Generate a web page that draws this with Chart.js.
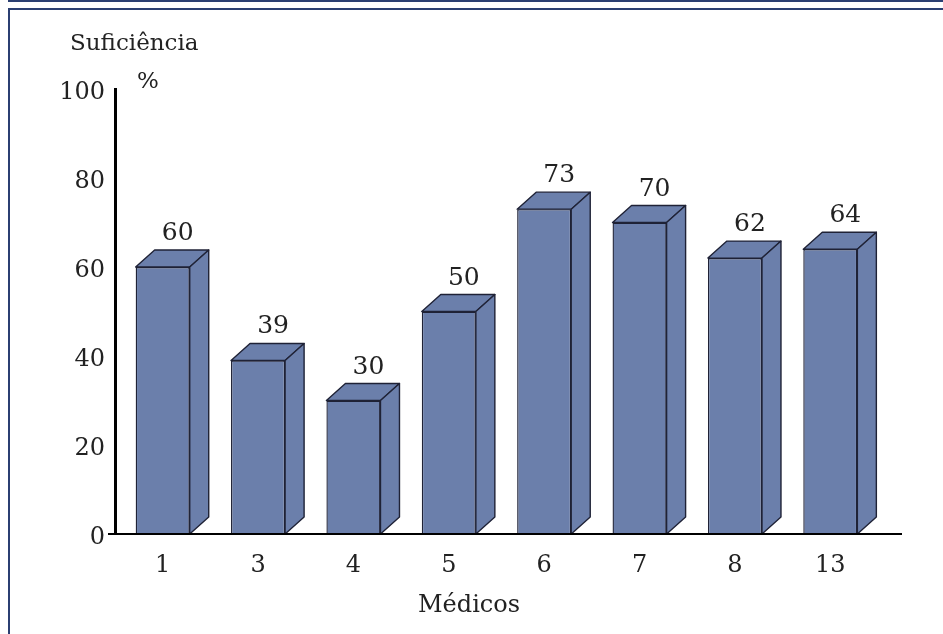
<!DOCTYPE html>
<html>
<head>
<meta charset="utf-8">
<script src="https://cdn.jsdelivr.net/npm/chart.js@4/dist/chart.umd.min.js"></script>
<style>
  html, body { margin: 0; padding: 0; background: #fff; }
  #wrap { position: relative; width: 943px; height: 634px; }
  #frame { position: absolute; left: 8px; top: 8px; right: -4px; bottom: -4px; border: 2px solid #2b3f72; }
  #topline { position: absolute; left: 8px; right: 0; top: 0; height: 2px; background: #2b3f72; }
  canvas { position: absolute; left: 0; top: 0; }
</style>
</head>
<body>
<div id="wrap">
  <div id="topline"></div>
  <div id="frame"></div>
  <canvas id="c" width="943" height="634"></canvas>
</div>
<script>
// data
const categories = ['1', '3', '4', '5', '6', '7', '8', '13'];
const suficiencia = [60, 39, 30, 50, 73, 70, 62, 64];
const yTicks = [0, 20, 40, 60, 80, 100];

const FONT = '"DejaVu Serif", "Liberation Serif", serif';
const BAR = '#6b7fab', EDGE = '#1f2236', INK = '#222';
const DX = 19, DY = 17; // depth of the 3d box

// draws top + side faces of each bar, value labels, axes and titles
const box3d = {
  id: 'box3d',
  afterDatasetsDraw(chart) {
    const ctx = chart.ctx, meta = chart.getDatasetMeta(0), area = chart.chartArea;
    ctx.save();
    ctx.lineWidth = 1.4;
    ctx.lineJoin = 'round';
    ctx.strokeStyle = EDGE;
    ctx.fillStyle = BAR;
    meta.data.forEach((el, i) => {
      const l = el.x - el.width / 2, r = el.x + el.width / 2, t = el.y, b = el.base;
      // top face
      ctx.beginPath();
      ctx.moveTo(l, t); ctx.lineTo(l + DX, t - DY); ctx.lineTo(r + DX, t - DY); ctx.lineTo(r, t); ctx.closePath();
      ctx.fill(); ctx.stroke();
      // side face
      ctx.beginPath();
      ctx.moveTo(r, t); ctx.lineTo(r + DX, t - DY); ctx.lineTo(r + DX, b - DY); ctx.lineTo(r, b); ctx.closePath();
      ctx.fill(); ctx.stroke();
      // value
      ctx.fillStyle = INK;
      ctx.font = '25px ' + FONT;
      ctx.textAlign = 'center';
      ctx.textBaseline = 'alphabetic';
      ctx.fillText(String(suficiencia[i]), el.x + 15, t - DY - 10);
      ctx.fillStyle = BAR;
    });
    // axes
    ctx.strokeStyle = '#000';
    ctx.lineWidth = 3;
    ctx.beginPath(); ctx.moveTo(115.5, area.top - 1); ctx.lineTo(115.5, area.bottom + 1); ctx.stroke();
    ctx.lineWidth = 2;
    ctx.beginPath(); ctx.moveTo(108, area.bottom); ctx.lineTo(902, area.bottom); ctx.stroke();
    // titles
    ctx.fillStyle = INK;
    ctx.textBaseline = 'middle';
    ctx.font = '23px ' + FONT;
    ctx.textAlign = 'left';
    ctx.fillText('Suficiência', 70, 44);
    ctx.fillText('%', 137, 82);
    ctx.textAlign = 'center';
    ctx.font = '24px ' + FONT;
    ctx.fillText('Médicos', 469, 606);
    ctx.restore();
  }
};

new Chart(document.getElementById('c'), {
  type: 'bar',
  data: {
    labels: categories,
    datasets: [{
      data: suficiencia,
      backgroundColor: BAR,
      borderColor: EDGE,
      borderWidth: 1.4,
      barPercentage: 1,
      categoryPercentage: 0.567
    }]
  },
  options: {
    responsive: false,
    animation: false,
    events: [],
    layout: { padding: { top: 89, right: 65, left: 0, bottom: 0 } },
    plugins: { legend: { display: false }, tooltip: { enabled: false } },
    scales: {
      x: {
        grid: { display: false, drawTicks: false },
        border: { display: false },
        ticks: { color: INK, font: { family: FONT, size: 24 }, padding: 17 },
        afterFit: s => { s.height = 100; }
      },
      y: {
        min: 0, max: 100,
        afterBuildTicks: s => { s.ticks = yTicks.map(v => ({ value: v })); },
        grid: { display: false, drawTicks: false },
        border: { display: false },
        ticks: { color: INK, font: { family: FONT, size: 24 }, padding: 10, labelOffset: 4 },
        afterFit: s => { s.width = 115; }
      }
    }
  },
  plugins: [box3d]
});
</script>
</body>
</html>
